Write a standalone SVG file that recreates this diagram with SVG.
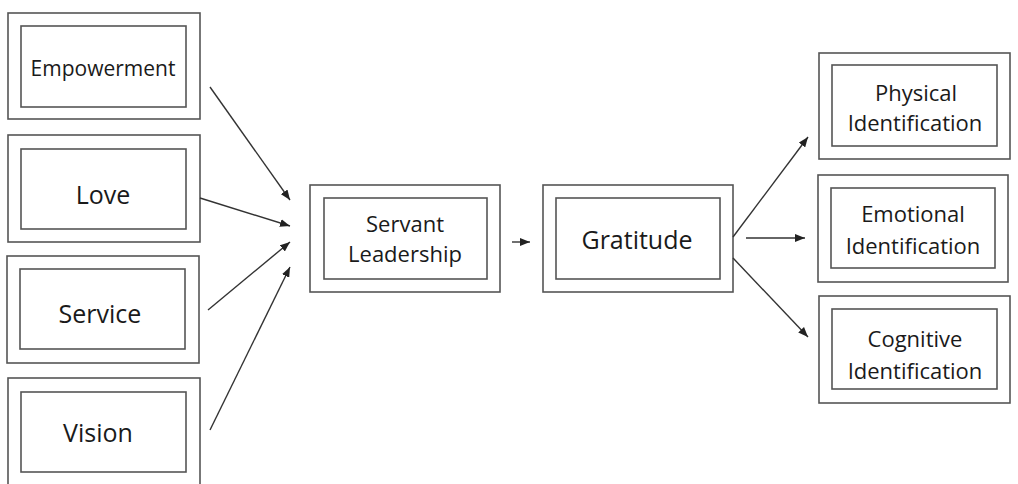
<svg xmlns="http://www.w3.org/2000/svg" width="1018" height="484" viewBox="0 0 1018 484">
<style>
.o{fill:#fff;stroke:#555;stroke-width:1.6}
.i{fill:#fff;stroke:#555;stroke-width:1.6}
text{font-family:"Open Sans","Liberation Sans",sans-serif;fill:#1a1a1a;text-anchor:middle;dominant-baseline:central;font-variant-ligatures:none}
.s{font-size:21px}
.m{font-size:22px}
.l{font-size:25px}
.c{stroke:#333;stroke-width:1.4;fill:none;marker-end:url(#ah)}
</style>
<defs>
<marker id="ah" markerWidth="10" markerHeight="8" refX="10" refY="4" orient="auto" markerUnits="userSpaceOnUse">
<path d="M0,0 L10,4 L0,8 Z" fill="#222"/>
</marker>
</defs>
<rect width="1018" height="484" fill="#fff"/>
<g id="empowerment"><rect class="o" x="8" y="13" width="192" height="106"/><rect class="i" x="21" y="26" width="165" height="81"/><text class="s" x="103" y="68">Empowerment</text></g>
<g id="love"><rect class="o" x="8" y="135" width="192" height="107"/><rect class="i" x="21" y="149" width="165" height="80"/><text class="l" x="103" y="194">Love</text></g>
<g id="service"><rect class="o" x="7" y="256" width="192" height="107"/><rect class="i" x="20" y="269" width="165" height="80"/><text class="l" x="100" y="313">Service</text></g>
<g id="vision"><rect class="o" x="8" y="378" width="192" height="110"/><rect class="i" x="21" y="392" width="165" height="80"/><text class="l" x="98" y="432">Vision</text></g>
<g id="servant"><rect class="o" x="310" y="185" width="190" height="107"/><rect class="i" x="324" y="198" width="163" height="81"/><text class="m" x="405" y="223">Servant</text><text class="m" x="405" y="253">Leadership</text></g>
<g id="gratitude"><rect class="o" x="543" y="185" width="190" height="107"/><rect class="i" x="556" y="198" width="164" height="81"/><text class="l" x="637" y="239">Gratitude</text></g>
<g id="physical"><rect class="o" x="819" y="53" width="191" height="106"/><rect class="i" x="832" y="65" width="165" height="81"/><text class="m" x="916" y="92">Physical</text><text class="m" x="915" y="122">Identification</text></g>
<g id="emotional"><rect class="o" x="818" y="175" width="190" height="107"/><rect class="i" x="831" y="188" width="164" height="80"/><text class="m" x="913" y="213">Emotional</text><text class="m" x="913" y="245">Identification</text></g>
<g id="cognitive"><rect class="o" x="819" y="296" width="191" height="107"/><rect class="i" x="832" y="309" width="165" height="80"/><text class="m" x="915" y="338">Cognitive</text><text class="m" x="915" y="370">Identification</text></g>
<g id="connectors">
<line class="c" x1="210" y1="87" x2="290" y2="200"/>
<line class="c" x1="200" y1="198" x2="290" y2="226"/>
<line class="c" x1="208" y1="310" x2="290" y2="242"/>
<line class="c" x1="210" y1="430" x2="290" y2="267"/>
<line class="c" x1="512" y1="242" x2="530" y2="242"/>
<line class="c" x1="733" y1="237" x2="808" y2="137"/>
<line class="c" x1="746" y1="238" x2="805" y2="238"/>
<line class="c" x1="733" y1="258" x2="808" y2="337"/>
</g>
</svg>
